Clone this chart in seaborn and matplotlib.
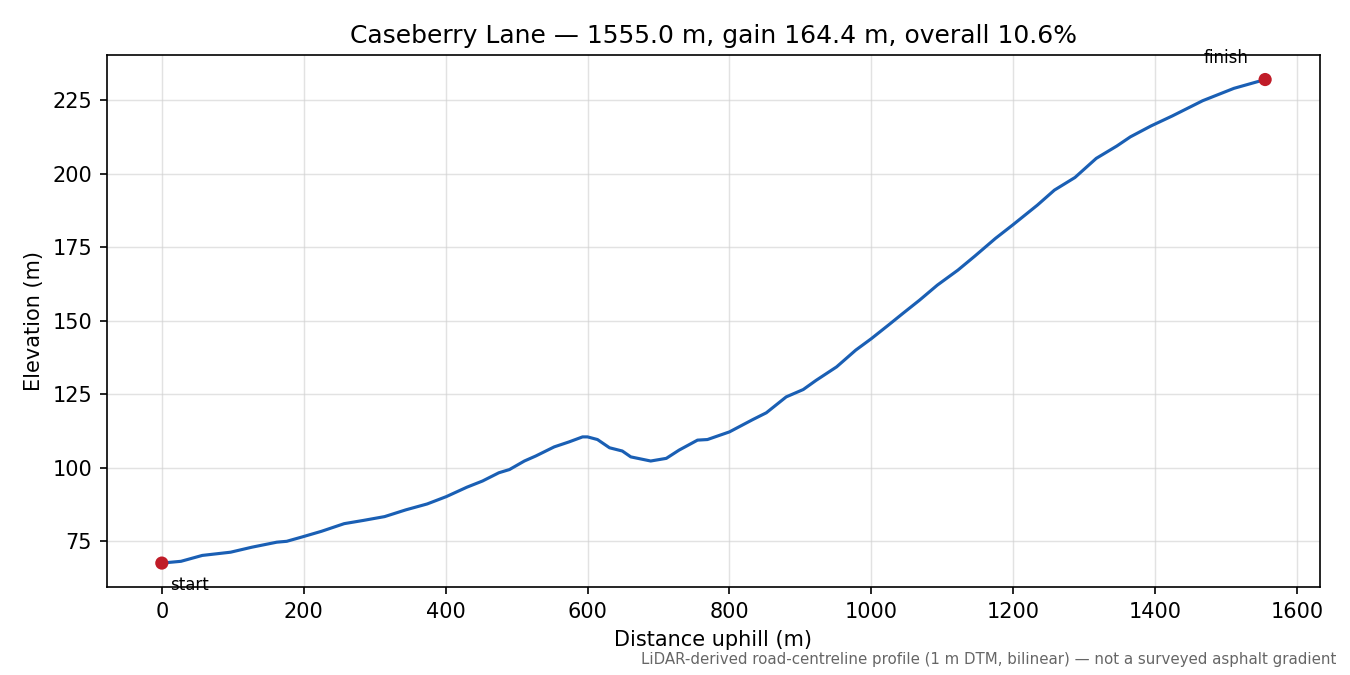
import matplotlib
matplotlib.use("Agg")
import matplotlib.pyplot as plt
import seaborn as sns
import pandas as pd

# road profile (distance uphill, elevation)
distance_m = [0, 27, 57, 97, 127, 162, 176, 198, 225, 257, 284, 314, 344, 374,
              401, 430, 452, 475, 490, 511, 527, 553, 574, 593, 600, 614, 631,
              649, 661, 689, 711, 729, 755, 769, 800, 833, 852, 880, 904, 922,
              951, 978, 1000, 1024, 1044, 1068, 1093, 1122, 1146, 1175, 1200,
              1234, 1258, 1287, 1317, 1346, 1365, 1394, 1424, 1467, 1511, 1555]
elevation_m = [67.6, 68.2, 70.2, 71.3, 73.0, 74.7, 75.0, 76.5, 78.4, 81.0, 82.1,
               83.4, 85.7, 87.7, 90.2, 93.4, 95.5, 98.3, 99.4, 102.3, 104.0,
               107.1, 108.8, 110.5, 110.5, 109.6, 106.8, 105.7, 103.7, 102.3,
               103.2, 106.0, 109.4, 109.6, 112.2, 116.4, 118.7, 124.1, 126.6,
               129.7, 134.3, 140.0, 143.9, 148.5, 152.4, 157.0, 162.1, 167.2,
               172.0, 178.0, 182.7, 189.3, 194.4, 198.7, 205.2, 209.4, 212.5,
               216.2, 219.6, 224.8, 229.0, 232.0]
end_labels = ["start", "finish"]

profile = pd.DataFrame({"distance": distance_m, "elevation": elevation_m})
ends = profile.iloc[[0, -1]].assign(label=end_labels)

length = distance_m[-1] - distance_m[0]
gain = elevation_m[-1] - elevation_m[0]

sns.set_style("ticks", {"axes.edgecolor": "black", "text.color": "black",
                        "axes.labelcolor": "black", "xtick.color": "black",
                        "ytick.color": "black"})
fig, ax = plt.subplots(figsize=(9, 4.5), dpi=150)

sns.lineplot(data=profile, x="distance", y="elevation", ax=ax,
             color="#1a5fb4", linewidth=1.5, sort=False)
sns.scatterplot(data=ends, x="distance", y="elevation", ax=ax,
                color="#c01c28", s=40, edgecolor="none", zorder=3)

ax.annotate("start", (ends.distance.iloc[0], ends.elevation.iloc[0]),
            xytext=(4, -6), textcoords="offset points", ha="left", va="top",
            fontsize=8)
ax.annotate("finish", (ends.distance.iloc[1], ends.elevation.iloc[1]),
            xytext=(-8, 6), textcoords="offset points", ha="right", va="bottom",
            fontsize=8)

ax.set_title(f"Caseberry Lane \u2014 {length:.1f} m, gain {gain:.1f} m, "
             f"overall {gain / length * 100:.1f}%", fontsize=12)
ax.set_xlabel("Distance uphill (m)", fontsize=10)
ax.set_ylabel("Elevation (m)", fontsize=10)
ax.tick_params(labelsize=10)
ax.grid(True, color="#d0d0d0", alpha=0.6, linewidth=0.7)

fig.text(0.99, 0.012, "LiDAR-derived road-centreline profile (1 m DTM, bilinear) "
         "\u2014 not a surveyed asphalt gradient",
         ha="right", va="bottom", fontsize=7.2, color="#666666")

fig.subplots_adjust(left=0.079, right=0.978, top=0.918, bottom=0.130)
fig.savefig("out.png", dpi=150)
